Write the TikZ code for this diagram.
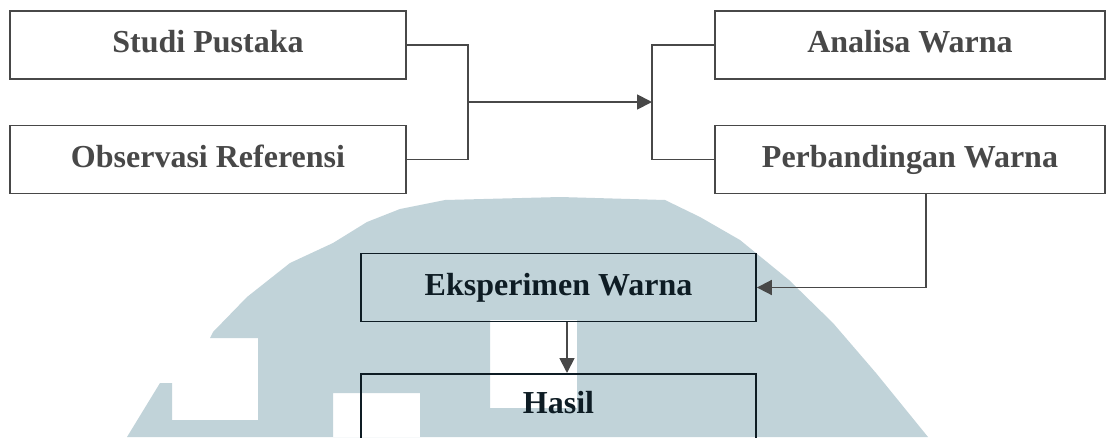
\documentclass[tikz,border=0pt]{standalone}
\usepackage{fontspec}
\setmainfont{Liberation Serif}
\usetikzlibrary{arrows.meta}
\definecolor{garis}{HTML}{484848}
\definecolor{tua}{HTML}{0E1C24}
\definecolor{logo}{HTML}{C1D3D9}

\begin{document}
\begin{tikzpicture}[x=1pt,y=-1pt,>={Triangle[length=15pt,width=15pt]},
    kotak/.style={draw=garis,text=garis,line width=1.8pt,minimum height=68pt,
      text height=22pt,text depth=7pt,font=\fontsize{32}{38}\selectfont\bfseries},
    kotaktua/.style={kotak,draw=tua,text=tua},
    alur/.style={draw=garis,line width=1.8pt}]
    \useasboundingbox (0,0) rectangle (1106,437);
    \clip (0,0) rectangle (1106,437);
    % logo samar di belakang
    \fill[logo,even odd rule] (127,437) -- (160,383) -- (172,383) -- (172,420) -- (258,420)
      -- (258,338) -- (210,338) -- (213,332) -- (247,297) -- (290,263) -- (333,243)
      -- (367,222) -- (400,209) -- (445,200) -- (560,197) -- (665,200) -- (700,217)
      -- (740,240) -- (789,280) -- (833,323) -- (876,373) -- (928,437) -- cycle
      (490,320) rectangle (577,408)
      (333,393) rectangle (420,437);

    \node[kotak,minimum width=396pt] (studi) at (208,45) {Studi Pustaka};
    \node[kotak,minimum width=396pt] (observasi) at (208,159.5) {Observasi Referensi};
    \node[kotak,minimum width=390pt] (analisa) at (910,45) {Analisa Warna};
    \node[kotak,minimum width=390pt] (banding) at (910,159.5) {Perbandingan Warna};
    \node[kotaktua,minimum width=395pt] (eksperimen) at (558.5,287.5) {Eksperimen Warna};
    \node[kotaktua,minimum width=395pt,anchor=north,inner ysep=18pt,text depth=100pt] (hasil) at (558.5,373) {Hasil};

    \coordinate (kiri) at (468,102);
    \coordinate (kanan) at (652,102);
    \draw[alur] (studi.east) -| (kiri);
    \draw[alur] (observasi.east) -| (kiri);
    \draw[alur,->] (kiri) -- (kanan);
    \draw[alur] (analisa.west) -| (kanan);
    \draw[alur] (banding.west) -| (kanan);
    \draw[alur,->] ([xshift=16pt]banding.south) |- (eksperimen.east);
    \draw[alur,->] ([xshift=8.5pt]eksperimen.south) -- ([xshift=8.5pt]hasil.north);
\end{tikzpicture}
\end{document}
